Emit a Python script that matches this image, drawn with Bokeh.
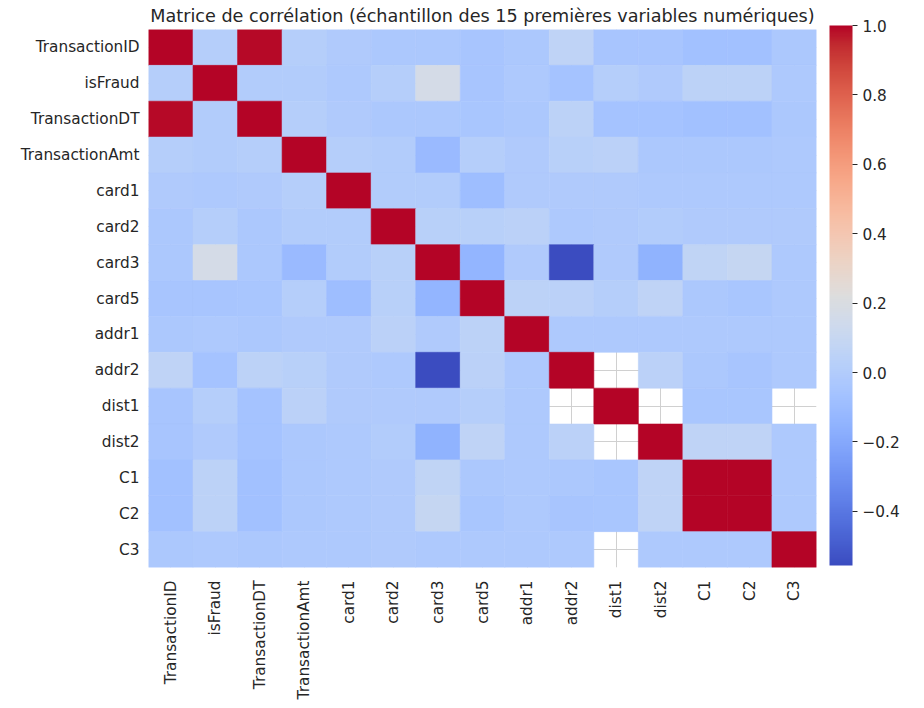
import math
from bokeh.plotting import figure
from bokeh.models import (ColumnDataSource, LinearColorMapper, ColorBar, FixedTicker,
                          CustomJSTickFormatter)
from bokeh.transform import transform
from bokeh.embed import file_html
from bokeh.resources import INLINE

nan = float("nan")

variables = ["TransactionID", "isFraud", "TransactionDT", "TransactionAmt", "card1", "card2",
             "card3", "card5", "addr1", "addr2", "dist1", "dist2", "C1", "C2", "C3"]

row_TransactionID = [1.0, 0.01, 0.99, 0.01, -0.01, -0.03, -0.03, -0.05, -0.03, 0.06, -0.05, -0.05, -0.07, -0.07, -0.03]
row_isFraud = [0.01, 1.0, 0.0, 0.0, -0.02, 0.01, 0.17, -0.05, -0.02, -0.06, 0.01, -0.01, 0.05, 0.05, -0.02]
row_TransactionDT = [0.99, 0.0, 1.0, 0.01, -0.01, -0.03, -0.03, -0.04, -0.03, 0.05, -0.06, -0.06, -0.07, -0.07, -0.03]
row_TransactionAmt = [0.01, 0.0, 0.01, 1.0, 0.01, 0.0, -0.11, 0.01, -0.01, 0.03, 0.04, -0.03, -0.03, -0.03, -0.02]
row_card1 = [-0.01, -0.02, -0.01, 0.01, 1.0, 0.0, 0.0, -0.09, -0.01, -0.01, -0.01, -0.02, -0.02, -0.02, -0.02]
row_card2 = [-0.03, 0.01, -0.03, 0.0, 0.0, 1.0, 0.03, 0.03, 0.04, -0.02, -0.01, 0.0, -0.01, -0.01, -0.01]
row_card3 = [-0.03, 0.17, -0.03, -0.11, 0.0, 0.03, 1.0, -0.14, -0.01, -0.556, -0.01, -0.15, 0.07, 0.09, -0.02]
row_card5 = [-0.05, -0.05, -0.04, 0.01, -0.09, 0.03, -0.14, 1.0, 0.05, 0.04, 0.01, 0.06, -0.03, -0.04, -0.02]
row_addr1 = [-0.03, -0.02, -0.03, -0.01, -0.01, 0.04, -0.01, 0.05, 1.0, -0.02, -0.02, -0.02, -0.02, -0.02, -0.02]
row_addr2 = [0.06, -0.06, 0.05, 0.03, -0.01, -0.02, -0.556, 0.04, -0.02, 1.0, nan, 0.04, -0.03, -0.05, -0.02]
row_dist1 = [-0.05, 0.01, -0.06, 0.04, -0.01, -0.01, -0.01, 0.01, -0.02, nan, 1.0, nan, -0.04, -0.04, nan]
row_dist2 = [-0.05, -0.01, -0.06, -0.03, -0.02, 0.0, -0.15, 0.06, -0.02, 0.04, nan, 1.0, 0.06, 0.06, -0.02]
row_C1 = [-0.07, 0.05, -0.07, -0.03, -0.02, -0.01, 0.07, -0.03, -0.02, -0.03, -0.04, 0.06, 1.0, 1.0, -0.02]
row_C2 = [-0.07, 0.05, -0.07, -0.03, -0.02, -0.01, 0.09, -0.04, -0.02, -0.05, -0.04, 0.06, 1.0, 1.0, -0.02]
row_C3 = [-0.03, -0.02, -0.03, -0.02, -0.02, -0.01, -0.02, -0.02, -0.02, -0.02, nan, -0.02, -0.02, -0.02, 1.0]

rows = [row_TransactionID, row_isFraud, row_TransactionDT, row_TransactionAmt, row_card1,
        row_card2, row_card3, row_card5, row_addr1, row_addr2, row_dist1, row_dist2,
        row_C1, row_C2, row_C3]

colorbar_ticks = [-0.4, -0.2, 0.0, 0.2, 0.4, 0.6, 0.8, 1.0]
vmin, vmax = -0.556, 1.0

# coolwarm (Moreland) anchor table
cw = [(59, 76, 192), (68, 90, 204), (77, 104, 215), (87, 117, 225), (98, 130, 234),
      (108, 142, 241), (119, 154, 247), (130, 165, 251), (141, 176, 254), (152, 185, 255),
      (163, 194, 255), (174, 201, 253), (184, 208, 249), (194, 213, 244), (204, 217, 238),
      (213, 219, 230), (221, 221, 221), (229, 216, 209), (236, 211, 197), (241, 204, 185),
      (245, 196, 173), (247, 187, 160), (247, 177, 148), (247, 166, 135), (244, 154, 123),
      (241, 141, 111), (236, 127, 99), (229, 112, 88), (222, 96, 77), (213, 80, 66),
      (203, 62, 56), (192, 40, 47), (180, 4, 38)]
palette = []
N = 256
for i in range(N):
    t = i / (N - 1) * (len(cw) - 1)
    k = min(int(t), len(cw) - 2)
    f = t - k
    c = [round(cw[k][j] + (cw[k + 1][j] - cw[k][j]) * f) for j in range(3)]
    palette.append("#%02x%02x%02x" % tuple(c))

xs, ys, vs = [], [], []
for r, name_r in enumerate(variables):
    for c, name_c in enumerate(variables):
        v = rows[r][c]
        if not math.isnan(v):
            xs.append(name_c)
            ys.append(name_r)
            vs.append(v)
source = ColumnDataSource(dict(x=xs, y=ys, v=vs))

mapper = LinearColorMapper(palette=palette, low=vmin, high=vmax)

p = figure(x_range=variables, y_range=list(reversed(variables)),
           frame_width=668, frame_height=538,
           min_border_left=148, min_border_bottom=120, min_border_top=10, min_border_right=0,
           output_backend="svg", toolbar_location=None,
           title="Matrice de corrélation (échantillon des 15 premières variables numériques)")

p.rect(x="x", y="y", width=1, height=1, source=source,
       fill_color=transform("v", mapper), line_color=transform("v", mapper), line_width=0.6)

p.title.text_font = "DejaVu Sans"
p.title.text_font_size = "17.6px"
p.title.text_font_style = "normal"
p.title.text_color = "#262626"
p.title.align = "center"
p.title.standoff = 7

p.outline_line_color = None
p.grid.grid_line_color = "#d0d0d0"
p.grid.grid_line_width = 1
p.grid.level = "underlay"

for ax in (p.xaxis[0], p.yaxis[0]):
    ax.axis_line_color = None
    ax.major_tick_line_color = None
    ax.minor_tick_line_color = None
    ax.major_tick_out = 0
    ax.major_tick_in = 0
    ax.major_label_text_font = "DejaVu Sans"
    ax.major_label_text_font_size = "15.3px"
    ax.major_label_text_color = "#262626"
p.yaxis.major_label_standoff = 9
p.xaxis.major_label_standoff = 13
p.xaxis.major_label_orientation = math.pi / 2

cb = ColorBar(color_mapper=mapper, ticker=FixedTicker(ticks=colorbar_ticks),
              formatter=CustomJSTickFormatter(code="""
                  if (Math.abs(tick) < 1e-9) { return '0.0'; }
                  return tick.toFixed(1).replace('-', '\u2212');"""),
              width=23, height=540, margin=0, padding=0,
              location=(13, 2),
              major_label_text_font="DejaVu Sans", major_label_text_font_size="15.3px",
              major_label_text_color="#262626",
              major_tick_line_color="#262626", major_tick_out=5, major_tick_in=0,
              minor_tick_line_color=None, label_standoff=5,
              bar_line_color=None, border_line_color=None, background_fill_alpha=0)
p.add_layout(cb, "right")

open("out.html", "w").write(file_html(p, INLINE))
